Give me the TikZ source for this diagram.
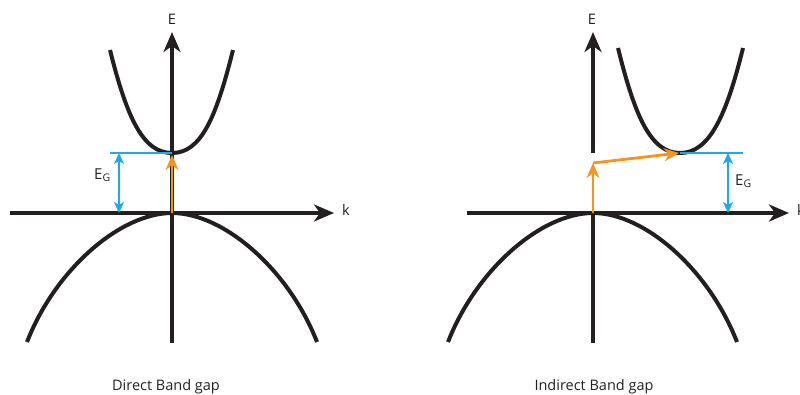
\documentclass[tikz,border=0pt]{standalone}
\usepackage{fontspec}
\setmainfont{Open Sans}
\usetikzlibrary{arrows.meta, positioning}
\definecolor{bandblack}{RGB}{35,31,32}
\definecolor{gapblue}{RGB}{30,170,228}
\definecolor{jumporange}{RGB}{247,148,30}

\begin{document}
\begin{tikzpicture}[
    x=1pt, y=-1pt,
    band/.style={draw=bandblack, line width=4pt},
    axis/.style={draw=bandblack, line width=4pt,
                 -{Stealth[length=20pt, width=17pt, inset=6pt]}},
    gapline/.style={draw=gapblue, line width=2pt},
    gaparr/.style={gapline, {Stealth[length=11pt, width=10pt, inset=3pt]}-{Stealth[length=11pt, width=10pt, inset=3pt]}},
    jump/.style={draw=jumporange, line width=2.8pt,
                 -{Stealth[length=15pt, width=13pt, inset=5pt]}},
    lbl/.style={font=\fontsize{14.5}{16}\selectfont, text=bandblack, inner sep=0pt},
]
\useasboundingbox (0,0) rectangle (800,394);

% Direct band gap
\coordinate (dvmax) at (172,213);
\coordinate (dcmin) at (172,153);
\coordinate (dkl)   at (10,213);
\coordinate (dkr)   at (334,213);
\coordinate (deb)   at (172,343);
\coordinate (det)   at (172,32);
\coordinate (dgl)   at (110,153);
\coordinate (dgt)   at (119,153);
\coordinate (dgb)   at (119,213);
\coordinate (dtip)  at (172,155);

\draw[band] (110,50) .. controls (127,118) and (143,153) .. (dcmin)
            .. controls (201,153) and (216,118) .. (233,50);
\draw[band] (27,342) .. controls (55,270) and (120,213) .. (dvmax)
            .. controls (224,213) and (289,270) .. (317,342);
\draw[axis] (deb) -- (det);
\draw[axis] (dkl) -- (dkr);
\draw[gapline] (dgl) -- (dcmin);
\draw[gaparr] (dgt) -- (dgb);
\draw[jump] (dvmax) -- (dtip);

\node[lbl, anchor=base] (dE) at (172,24) {E};
\node[lbl, anchor=base west] (dk) at (342,215) {k};
\node[lbl, anchor=base west, font=\fontsize{15}{17}\selectfont] (dEG) at (94,179) {E\textsubscript{G}};
\node[lbl, anchor=base] (dtitle) at (166,390) {Direct Band gap};

% Indirect band gap
\coordinate (ivmax) at (593,213);
\coordinate (icmin) at (680,153);
\coordinate (ikl)   at (467,213);
\coordinate (ikr)   at (789,213);
\coordinate (ieb)   at (593,343);
\coordinate (iem)   at (593,153);
\coordinate (iet)   at (593,32);
\coordinate (igr)   at (743,153);
\coordinate (igt)   at (728,153);
\coordinate (igb)   at (728,213);
\coordinate (ikink) at (593,163);
\coordinate (itip)  at (679,153);

\draw[band] (618,48) .. controls (635,117) and (651,153) .. (icmin)
            .. controls (709,153) and (726,117) .. (743,48);
\draw[band] (448,342) .. controls (476,270) and (541,213) .. (ivmax)
            .. controls (645,213) and (709,270) .. (737,342);
\draw[band] (ieb) -- (ivmax);
\draw[axis] (iem) -- (iet);
\draw[axis] (ikl) -- (ikr);
\draw[gapline] (icmin) -- (igr);
\draw[gaparr] (igt) -- (igb);
\draw[jump] (ivmax) -- (ikink);
\draw[jump] (ikink) -- (itip);

\node[lbl, anchor=base] (iE) at (592,24) {E};
\node[lbl, anchor=base west] (ik) at (797,215) {k};
\node[lbl, anchor=base west, font=\fontsize{15}{17}\selectfont] (iEG) at (735,185) {E\textsubscript{G}};
\node[lbl, anchor=base] (ititle) at (594,390) {Indirect Band gap};
\end{tikzpicture}
\end{document}
